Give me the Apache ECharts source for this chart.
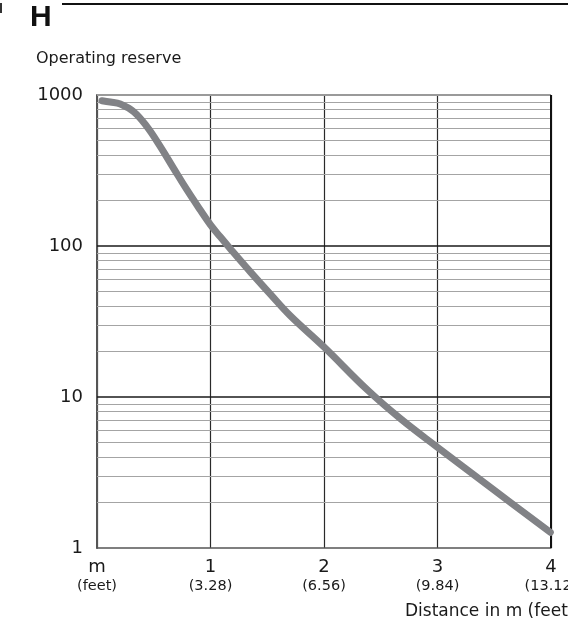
<!DOCTYPE html>
<html>
<head>
<meta charset="utf-8">
<script src="https://cdn.jsdelivr.net/npm/echarts@6/dist/echarts.min.js"></script>
<style>
  html, body { margin: 0; padding: 0; background: #fff; }
  #chart { width: 568px; height: 626px; }
</style>
</head>
<body>
<div id="chart"></div>
<script>
// Operating reserve versus scanning distance
const distanceM = [0.044, 0.117, 0.205, 0.322, 0.44, 0.558, 0.675, 0.793, 0.91, 1.0, 1.086, 1.174, 1.351, 1.527, 1.703, 1.998, 2.379, 2.672, 2.996, 3.492, 3.994];
const reserve   = [917, 899, 872, 776, 617, 455, 327, 235, 173, 138, 115, 96, 67.4, 48, 34.5, 21.5, 11.2, 7.2, 4.67, 2.44, 1.27];

// x tick labels: metres with feet underneath
const xTicksM    = [0, 1, 2, 3, 4];
const xTickTop   = ['m', '1', '2', '3', '4'];
const xTickFeet  = ['(feet)', '(3.28)', '(6.56)', '(9.84)', '(13.12)'];

// y decades and the minor lines between them
const yDecades = [1, 10, 100, 1000];
const yMinor = [2, 3, 4, 5, 6, 7, 8, 9, 20, 30, 40, 50, 60, 70, 80, 90, 200, 300, 400, 500, 600, 700, 800, 900];

const FONT = 'DejaVu Sans';

const chart = echarts.init(document.getElementById('chart'), null, { renderer: 'canvas' });

const minorLines = yMinor.map(v => ({ yAxis: v, lineStyle: { color: '#a4a4a4', width: 1.2, type: 'solid' } }));
const majorLines = [
  { yAxis: 10, lineStyle: { color: '#1a1a1a', width: 1.5, type: 'solid' } },
  { yAxis: 100, lineStyle: { color: '#1a1a1a', width: 1.5, type: 'solid' } },
  { yAxis: 1000, lineStyle: { color: '#9a9a9a', width: 2, type: 'solid' } },
  { xAxis: 4, lineStyle: { color: '#111', width: 2, type: 'solid' } }
];

chart.setOption({
  animation: false,
  backgroundColor: '#fff',
  grid: { left: 97, top: 95, width: 454, height: 453, containLabel: false, outerBoundsMode: 'none' },
  xAxis: {
    type: 'value',
    min: 0,
    max: 4,
    interval: 1,
    axisLine: { show: true, onZero: false, lineStyle: { color: '#555', width: 1.5 } },
    axisTick: { show: false },
    splitLine: { show: true, lineStyle: { color: '#2a2a2a', width: 1.2 } },
    axisLabel: {
      margin: 9,
      interval: 0,
      showMaxLabel: true,
      showMinLabel: true,
      hideOverlap: false,
      formatter: function (v) {
        const i = xTicksM.indexOf(v);
        if (i < 0) return '';
        return '{a|' + xTickTop[i] + '}\n{b|' + xTickFeet[i] + '}';
      },
      rich: {
        a: { fontFamily: FONT, fontSize: 18, color: '#1a1a1a', lineHeight: 20, align: 'center' },
        b: { fontFamily: FONT, fontSize: 14.5, color: '#1a1a1a', lineHeight: 18, align: 'center' }
      }
    }
  },
  yAxis: {
    type: 'log',
    logBase: 10,
    min: 1,
    max: 1000,
    axisLine: { show: true, lineStyle: { color: '#555', width: 2 } },
    axisTick: { show: false },
    splitLine: { show: false },
    minorSplitLine: { show: false },
    axisLabel: {
      margin: 14,
      fontFamily: FONT,
      fontSize: 18,
      color: '#1a1a1a',
      formatter: function (v) {
        return yDecades.indexOf(Math.round(v)) >= 0 && Math.abs(v - Math.round(v)) < 1e-6 ? String(Math.round(v)) : '';
      }
    }
  },
  series: [
    {
      type: 'line',
      silent: true,
      data: [],
      markLine: {
        silent: true,
        symbol: ['none', 'none'],
        label: { show: false },
        animation: false,
        data: minorLines.concat(majorLines)
      }
    },
    {
      name: 'Operating reserve',
      type: 'line',
      data: distanceM.map((x, i) => [x, reserve[i]]),
      smooth: 0.4,
      showSymbol: false,
      symbol: 'none',
      lineStyle: { color: '#818286', width: 7, cap: 'round', join: 'round' },
      z: 5
    }
  ],
  graphic: [
    { type: 'line', shape: { x1: 62, y1: 4, x2: 568, y2: 4 }, style: { stroke: '#111', lineWidth: 2 } },
    { type: 'line', shape: { x1: 1, y1: 3, x2: 1, y2: 13 }, style: { stroke: '#333', lineWidth: 2 } },
    { type: 'text', x: 30, y: 18, style: { text: 'H', font: 'bold 30px "Liberation Sans"', fill: '#111', textVerticalAlign: 'middle', verticalAlign: 'middle' } },
    { type: 'text', x: 36, y: 59, style: { text: 'Operating reserve', font: '16px "DejaVu Sans"', fill: '#1a1a1a', textVerticalAlign: 'middle', verticalAlign: 'middle' } },
    { type: 'text', x: 405, y: 612, style: { text: 'Distance in m (feet)', font: '17px "DejaVu Sans"', fill: '#1a1a1a', textVerticalAlign: 'middle', verticalAlign: 'middle' } }
  ]
});
</script>
</body>
</html>
